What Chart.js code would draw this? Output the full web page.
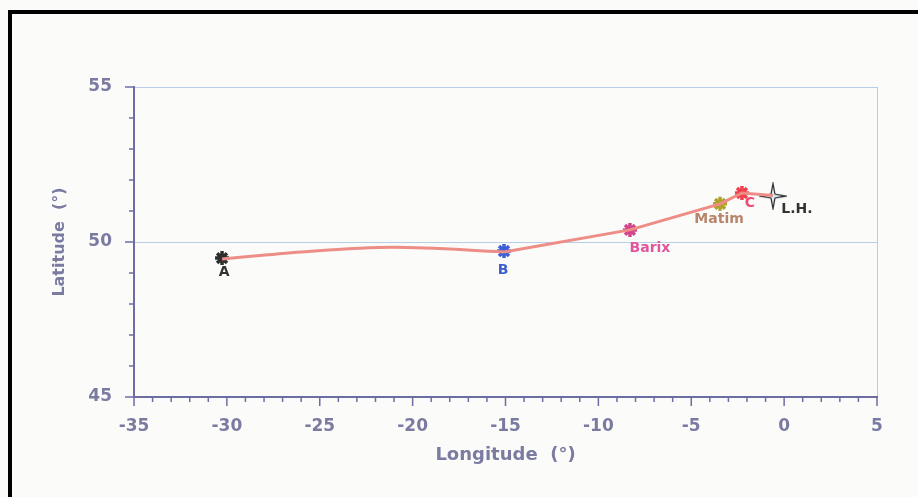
<!DOCTYPE html>
<html>
<head>
<meta charset="utf-8">
<script src="https://cdn.jsdelivr.net/npm/chart.js@4"></script>
<style>
  html, body { margin: 0; padding: 0; background: #fbfcfa; }
  #frame {
    position: absolute; left: 8px; top: 10px; right: 0; bottom: 0;
    border-left: 4px solid #000; border-top: 4px solid #000;
  }
  #wrap { position: absolute; left: 0; top: 0; width: 918px; height: 497px; }
</style>
</head>
<body>
<div id="frame"></div>
<div id="wrap"><canvas id="chart" width="918" height="497"></canvas></div>
<script>
// stations along the track
const stations = ["A", "B", "Barix", "Matim", "C", "L.H."];
const stationLon = [-30.26, -15.08, -8.3, -3.45, -2.27, -0.6];
const stationLat = [49.48, 49.71, 50.39, 51.23, 51.58, 51.48];

// the track line (curved part A..B, then straight legs)
const trackLon = [-30.26, -26.0, -21.0, -15.08, -8.3, -3.45, -2.27, -0.6];
const trackLat = [49.45, 49.68, 49.83, 49.68, 50.39, 51.23, 51.58, 51.5];
const curveEnd = 3;

// axis ranges
const lonRange = [-35, 5];
const latRange = [45, 55];

// styles
const markerColors = ["#2e2e2e", "#3d5fd6", "#d2468f", "#aea12c", "#f0404e", "#9fc4e8"];
const labelColors = ["#333333", "#3f5fcf", "#e0559e", "#b8846a", "#f04a6e", "#333333"];
const labelOffsets = [[2, 14], [-1, 19], [20, 18], [-1, 15], [8, 10], [24, 13]];
const axisColor = "#6d6da4";
const textColor = "#7b7ba2";
const gridBlue = "#b8cde8";
const lineColor = "#ee8c86";

// 4-point star for L.H.
const lhStar = (() => {
  const c = document.createElement("canvas");
  c.width = 28; c.height = 28;
  const g = c.getContext("2d");
  const cx = 14, cy = 14, R = 12.5, r = 2.8;
  g.beginPath();
  for (let i = 0; i < 8; i++) {
    const a = (Math.PI / 4) * i - Math.PI / 2;
    const rad = i % 2 === 0 ? R : r;
    const px = cx + rad * Math.cos(a), py = cy + rad * Math.sin(a);
    i === 0 ? g.moveTo(px, py) : g.lineTo(px, py);
  }
  g.closePath();
  g.fillStyle = "#d8ebfa";
  g.fill();
  g.lineWidth = 1.3;
  g.strokeStyle = "#333";
  g.stroke();
  return c;
})();

const track = trackLon.map((x, i) => ({ x, y: trackLat[i] }));
const points = stationLon.map((x, i) => ({ x, y: stationLat[i] }));

// 刻度線 (major / minor)
const tickPlugin = {
  id: "ticks",
  afterDraw(chart) {
    const ctx = chart.ctx;
    const xs = chart.scales.x, ys = chart.scales.y;
    ctx.save();
    ctx.strokeStyle = axisColor;
    ctx.lineWidth = 1.5;
    xs.ticks.forEach((t) => {
      const px = xs.getPixelForValue(t.value);
      const len = t.value % 5 === 0 ? 9 : 5;
      ctx.beginPath();
      ctx.moveTo(px, xs.top);
      ctx.lineTo(px, xs.top + len);
      ctx.stroke();
    });
    ys.ticks.forEach((t) => {
      const py = ys.getPixelForValue(t.value);
      const len = t.value % 5 === 0 ? 9 : 5;
      ctx.beginPath();
      ctx.moveTo(ys.right, py);
      ctx.lineTo(ys.right - len, py);
      ctx.stroke();
    });
    ctx.restore();
  },
};

// 站名標籤
const labelPlugin = {
  id: "stationLabels",
  afterDatasetsDraw(chart) {
    const ctx = chart.ctx;
    const meta = chart.getDatasetMeta(2);
    ctx.save();
    ctx.font = "bold 14px 'DejaVu Sans', sans-serif";
    ctx.textAlign = "center";
    ctx.textBaseline = "middle";
    meta.data.forEach((el, i) => {
      ctx.fillStyle = labelColors[i];
      ctx.fillText(stations[i], el.x + labelOffsets[i][0], el.y + labelOffsets[i][1]);
    });
    ctx.restore();
  },
};

const ctx = document.getElementById("chart").getContext("2d");
new Chart(ctx, {
  type: "scatter",
  data: {
    datasets: [
      {
        label: "track (curve)",
        data: track.slice(0, curveEnd + 1),
        showLine: true,
        borderColor: lineColor,
        borderWidth: 3,
        pointRadius: 0,
        cubicInterpolationMode: "monotone",
      },
      {
        label: "track (legs)",
        data: track.slice(curveEnd),
        showLine: true,
        borderColor: lineColor,
        borderWidth: 3,
        pointRadius: 0,
        tension: 0,
      },
      {
        label: "stations",
        data: points,
        showLine: false,
        pointStyle: stations.map((s, i) => (i === 5 ? lhStar : "star")),
        pointRadius: 7,
        borderWidth: 3.5,
        borderColor: markerColors,
        backgroundColor: markerColors,
      },
    ],
  },
  options: {
    responsive: false,
    animation: false,
    layout: { padding: { left: 50, top: 87, right: 41, bottom: 31 } },
    plugins: { legend: { display: false }, tooltip: { enabled: false } },
    scales: {
      x: {
        type: "linear",
        min: lonRange[0],
        max: lonRange[1],
        afterFit: (scale) => { scale.height = 69; },
        border: { color: axisColor, width: 2 },
        grid: {
          drawTicks: false,
          color: (c) => (c.tick && c.tick.value === lonRange[1] ? gridBlue : "rgba(0,0,0,0)"),
        },
        ticks: {
          stepSize: 1,
          autoSkip: false,
          maxRotation: 0,
          padding: 19,
          color: textColor,
          font: { family: "'DejaVu Sans', sans-serif", size: 17, weight: "bold" },
          callback: (v) => (v % 5 === 0 ? v : ""),
        },
        title: {
          display: true,
          text: "Longitude  (°)",
          color: textColor,
          padding: 0,
          font: { family: "'DejaVu Sans', sans-serif", size: 18, weight: "bold" },
        },
      },
      y: {
        type: "linear",
        min: latRange[0],
        max: latRange[1],
        afterFit: (scale) => { scale.width = 84; },
        border: { color: axisColor, width: 2 },
        grid: {
          drawTicks: false,
          color: (c) => (c.tick && (c.tick.value === 50 || c.tick.value === latRange[1]) ? gridBlue : "rgba(0,0,0,0)"),
        },
        ticks: {
          stepSize: 1,
          autoSkip: false,
          padding: 22,
          color: textColor,
          font: { family: "'DejaVu Sans', sans-serif", size: 17, weight: "bold" },
          callback: (v) => (v % 5 === 0 ? v : ""),
        },
        title: {
          display: true,
          text: "Latitude  (°)",
          color: textColor,
          padding: 0,
          font: { family: "'DejaVu Sans', sans-serif", size: 16, weight: "bold" },
        },
      },
    },
  },
  plugins: [tickPlugin, labelPlugin],
});
</script>
</body>
</html>
